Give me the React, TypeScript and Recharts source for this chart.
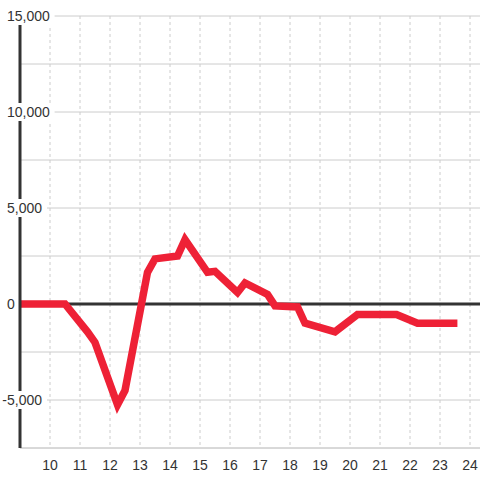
import { CartesianGrid, Line, LineChart, ReferenceLine, XAxis, YAxis } from "recharts";

const hours = [9, 10.5, 11.25, 11.5, 12.25, 12.5, 13.25, 13.5, 14.25, 14.5, 15.25, 15.5, 16.25, 16.5, 17.25, 17.5, 18.25, 18.5, 19.5, 20.25, 21.55, 22.25, 23.58];
const values = [0, 0, -1450, -2000, -5250, -4500, 1650, 2350, 2500, 3350, 1650, 1700, 600, 1100, 500, -100, -150, -1000, -1450, -550, -550, -1000, -1000];
const xTicks = [10, 11, 12, 13, 14, 15, 16, 17, 18, 19, 20, 21, 22, 23, 24];
const yTicks = [-5000, 0, 5000, 10000, 15000];
const yGrid = [-7500, -5000, -2500, 2500, 5000, 7500, 10000, 12500, 15000];

const data = hours.map((h, i) => ({ h, v: values[i] }));

const fmt = (n: number) => Math.abs(n).toLocaleString("en-US");

function YTick({ y, payload }: any) {
  const v = payload.value as number;
  const label = fmt(v);
  const w = label.length * 7.6 + 4;
  return (
    <g>
      <rect x={5} y={y - 9} width={w} height={18} fill="#fff" />
      {v < 0 && (
        <text x={7} y={y} dy={5} textAnchor="end" fontSize={14} fill="#333">-</text>
      )}
      <text x={7} y={y} dy={5} textAnchor="start" fontSize={14} fill="#333">
        {label}
      </text>
    </g>
  );
}

export default function App() {
  return (
    <div style={{ position: "absolute", left: 0, top: 0, fontFamily: "'Liberation Sans', Arial, sans-serif" }}>
      <LineChart width={480} height={480} data={data} margin={{ top: 16, right: 0, left: 0, bottom: 0 }}>
        <CartesianGrid vertical={false} horizontalValues={yGrid} stroke="#ccc" />
        <CartesianGrid horizontal={false} verticalValues={xTicks} stroke="#ccc" strokeDasharray="3 3" />
        <XAxis
          dataKey="h"
          type="number"
          domain={[9, 24.333]}
          ticks={xTicks}
          allowDataOverflow
          interval={0}
          height={32}
          tickLine={false}
          axisLine={{ stroke: "#ccc" }}
          tick={{ fontSize: 14, fill: "#333" }}
          tickMargin={6}
        />
        <YAxis
          type="number"
          domain={[-7500, 15000]}
          ticks={yTicks}
          allowDataOverflow
          interval={0}
          width={20}
          tickLine={false}
          axisLine={{ stroke: "#333", strokeWidth: 3 }}
          tick={<YTick />}
        />
        <ReferenceLine y={0} stroke="#333" strokeWidth={3} />
        <Line
          type="linear"
          dataKey="v"
          stroke="#ee2136"
          strokeWidth={7.5}
          dot={false}
          isAnimationActive={false}
        />
      </LineChart>
    </div>
  );
}
